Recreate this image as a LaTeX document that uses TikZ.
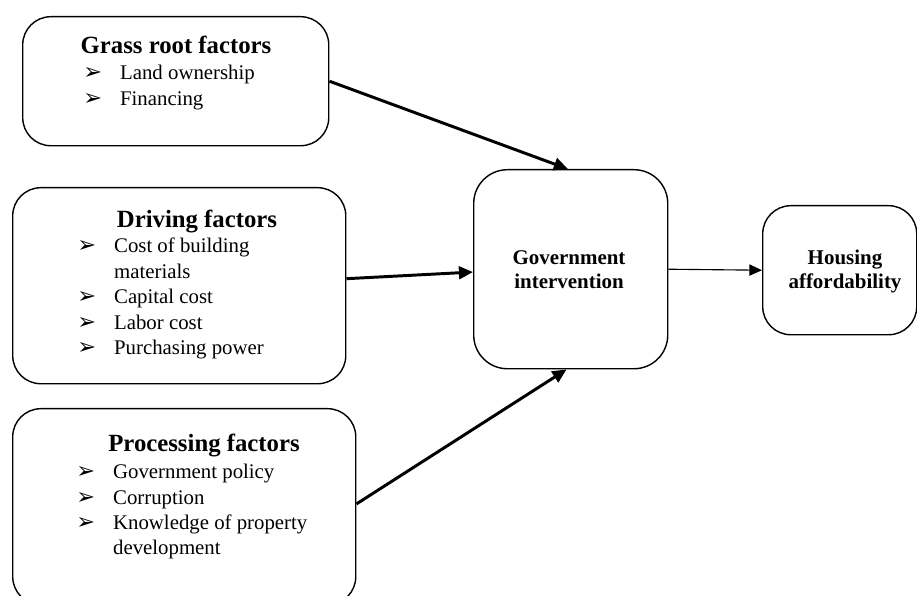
\documentclass[tikz,border=0pt]{standalone}
\usepackage{fontspec}
\setmainfont{Liberation Serif}
\newfontfamily\dingfont{DejaVu Sans}
\usepackage{tikz}
\usetikzlibrary{positioning,arrows.meta}

% bullet and hanging indent for the factor lists
\newcommand{\bul}{\makebox[26.2pt][l]{\dingfont\fontsize{16}{16}\selectfont ➢}}
\newcommand{\hang}{\hspace*{26.2pt}}

\begin{document}
\begin{tikzpicture}[x=0.025cm,y=-0.025cm,
  box/.style={draw,line width=1pt,fill=white,rounded corners=20pt,anchor=north west,inner sep=0pt},
  head/.style={font=\fontsize{17.6}{20}\selectfont\bfseries,anchor=base,inner sep=0pt},
  item/.style={font=\fontsize{14.8}{18}\selectfont,anchor=base west,inner sep=0pt},
  mid/.style={font=\fontsize{14.9}{17.7}\selectfont\bfseries,align=center,anchor=base,inner sep=0pt},
  link/.style={line width=2.1pt,-{Triangle[length=10pt,width=9pt]}}]
  \useasboundingbox (0,0) rectangle (917,596);

  % boxes
  \node[box,minimum width=7.65cm,minimum height=3.225cm] (gr) at (22,16) {};
  \node[box,minimum width=8.325cm,minimum height=4.9cm] (dr) at (12,187) {};
  \node[box,minimum width=8.575cm,minimum height=4.9cm] (pr) at (12,408) {};
  \node[box,minimum width=4.85cm,minimum height=4.975cm,rounded corners=24pt] (gov) at (473,169) {};
  \node[box,minimum width=3.85cm,minimum height=3.225cm] (ho) at (762,205) {};

  % grass root factors
  \node[head] (grh) at (176,54) {Grass root factors};
  \foreach \t [count=\i] in {\bul Land ownership, \bul Financing}
    \node[item] (gr-\i) at (83,{80+26*(\i-1)}) {\t};

  % driving factors
  \node[head] (drh) at (197,228) {Driving factors};
  \foreach \t [count=\i] in {\bul Cost of building, \hang materials, \bul Capital cost,
      \bul Labor cost, \bul Purchasing power}
    \node[item] (dr-\i) at (77,{253+25.5*(\i-1)}) {\t};

  % processing factors
  \node[head] (prh) at (204,452) {Processing factors};
  \foreach \t [count=\i] in {\bul Government policy, \bul Corruption,
      \bul Knowledge of property, \hang development}
    \node[item] (pr-\i) at (76,{479+25.3*(\i-1)}) {\t};

  % base of a two-line node is its last line
  \node[mid] (govt) at (569,289) {Government\\intervention};
  \node[mid] (hot) at (845,289) {Housing\\affordability};

  % links
  \draw[link] (gr.east) -- ([xshift=-2pt]gov.north);
  \draw[link] ([yshift=5pt]dr.east) -- ([yshift=-2pt]gov.west);
  \draw[link] ([yshift=2pt]pr.east) -- ([xshift=-3pt]gov.south);
  \draw[line width=0.8pt,-{Triangle[length=9pt,width=8pt]}] (gov.east) -- (ho.west);
\end{tikzpicture}
\end{document}
